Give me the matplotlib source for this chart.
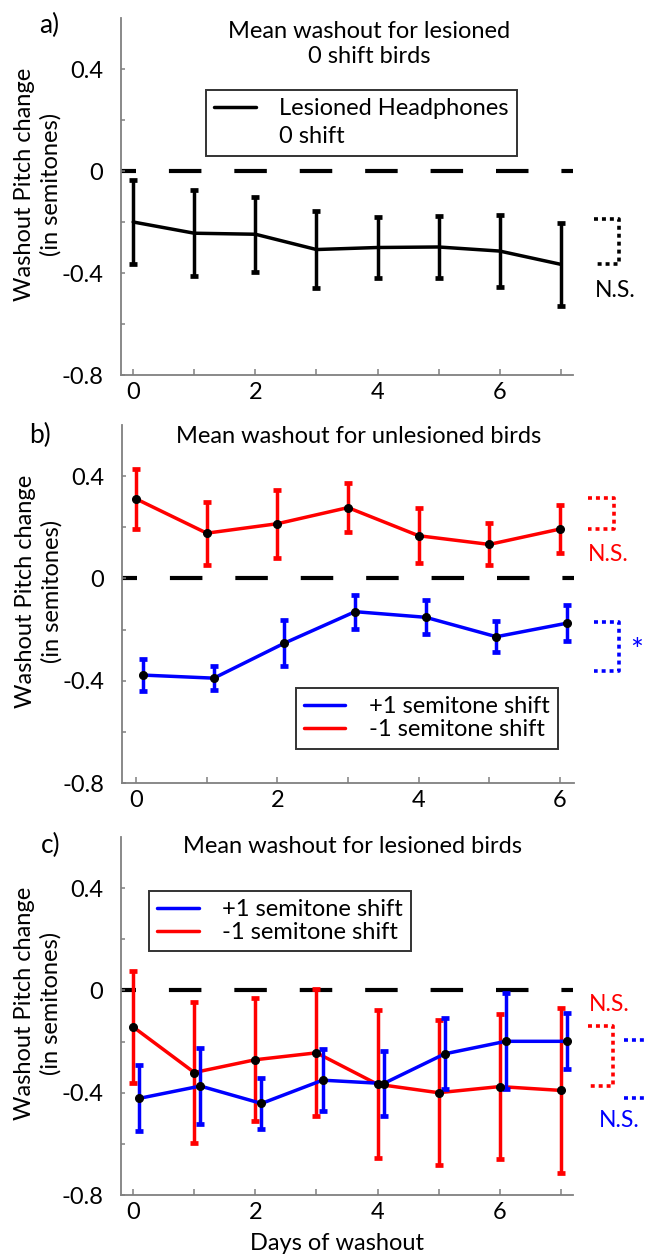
import matplotlib
matplotlib.use("Agg")
import matplotlib.pyplot as plt
from matplotlib.lines import Line2D

plt.rcParams['font.family'] = ['Lato', 'DejaVu Sans']

RED = '#ff0000'
BLUE = '#0000ff'
SPINE = '#808080'

# ---- data -------------------------------------------------------------
# a) lesioned birds, headphones with 0 shift
days_a = [0, 1, 2, 3, 4, 5, 6, 7]
mean_a = [-0.200, -0.244, -0.248, -0.308, -0.300, -0.298, -0.314, -0.366]
err_a = [0.166, 0.168, 0.147, 0.152, 0.120, 0.121, 0.142, 0.162]

# b) unlesioned birds
days_b = [0, 1, 2, 3, 4, 5, 6]
mean_b_up = [-0.378, -0.390, -0.253, -0.130, -0.152, -0.228, -0.175]
err_b_up = [0.062, 0.047, 0.091, 0.067, 0.067, 0.060, 0.070]
mean_b_down = [0.311, 0.177, 0.214, 0.277, 0.167, 0.133, 0.193]
err_b_down = [0.118, 0.123, 0.133, 0.096, 0.108, 0.082, 0.094]

# c) lesioned birds
days_c = [0, 1, 2, 3, 4, 5, 6, 7]
mean_c_up = [-0.422, -0.374, -0.442, -0.351, -0.364, -0.248, -0.199, -0.199]
err_c_up = [0.129, 0.148, 0.098, 0.121, 0.127, 0.139, 0.188, 0.109]
mean_c_down = [-0.143, -0.321, -0.271, -0.244, -0.367, -0.400, -0.376, -0.391]
err_c_down = [0.218, 0.274, 0.241, 0.249, 0.289, 0.283, 0.283, 0.323]

yticks = [-0.8, -0.6, -0.4, -0.2, 0.0, 0.2, 0.4]
ytick_labels = ['-0.8', '', '-0.4', '', '0', '', '0.4']

label_up = '+1 semitone shift'
label_down = '-1 semitone shift'

# ---- layout -----------------------------------------------------------
W, H = 646, 1255
fig = plt.figure(figsize=(W / 100, H / 100), dpi=100)


def px_axes(left, top, right, bottom):
    return fig.add_axes([left / W, 1 - bottom / H, (right - left) / W, (bottom - top) / H])


ax_a = px_axes(121, 18, 573, 375)
ax_b = px_axes(122, 425, 574, 783)
ax_c = px_axes(121, 837, 573, 1195)

BLUE_SHIFT = 0.1
LW = 2.5
FS = 17


def style_axes(ax, ndays):
    ax.set_xlim(-0.2, ndays - 1 + 0.2)
    ax.set_ylim(-0.8, 0.6)
    for s in ('top', 'right'):
        ax.spines[s].set_visible(False)
    for s in ('left', 'bottom'):
        ax.spines[s].set_color(SPINE)
        ax.spines[s].set_linewidth(1.3)
    ax.set_xticks(range(ndays))
    ax.set_xticklabels([str(d) if d % 2 == 0 else '' for d in range(ndays)])
    ax.set_yticks(yticks)
    ax.set_yticklabels(ytick_labels)
    ax.tick_params(axis='both', direction='in', color=SPINE, width=1.1,
                   labelsize=FS, labelcolor='black')
    ax.tick_params(axis='y', length=3, pad=13)
    ax.tick_params(axis='x', length=4, pad=5)
    # zero reference
    ax.axhline(0, color='black', lw=3.0, linestyle=(4.2, (7.8, 7.9)), zorder=1)
    ax.text(-0.184, 0.534, 'Washout Pitch change\n(in semitones)', transform=ax.transAxes,
            rotation=90, ha='center', va='center', fontsize=FS, linespacing=1.25)


def series(ax, x, mean, err, color, dots=True):
    line, = ax.plot(x, mean, color=color, lw=LW, zorder=3, solid_capstyle='round')
    ax.errorbar(x, mean, yerr=err, fmt='none', ecolor=color, elinewidth=LW,
                capsize=3.2, capthick=3.4, zorder=3)
    if dots:
        ax.plot(x, mean, 'o', color='black', ms=5.5, zorder=5)
    return line


def bracket(ax, x0, x1, y0, y1, color):
    ax.plot([x0, x1, x1, x0], [y0, y0, y1, y1], color=color, lw=2.6,
            linestyle=(0, (1.1, 1.1)), clip_on=False, zorder=2)


def make_legend(ax, handles, labels, anchor, spacing, pad):
    leg = ax.legend(handles, labels, loc='upper left', bbox_to_anchor=anchor, fontsize=FS,
                    frameon=True, fancybox=False, edgecolor='black', handlelength=1.75,
                    handletextpad=1.0, labelspacing=spacing, borderpad=pad,
                    borderaxespad=0)
    leg.get_frame().set_linewidth(1.4)
    return leg


# ---- a) --------------------------------------------------------------
style_axes(ax_a, len(days_a))
line_a = series(ax_a, days_a, mean_a, err_a, 'black', dots=False)
ax_a.text(0.549, 0.874, 'Mean washout for lesioned\n0 shift birds', transform=ax_a.transAxes,
          ha='center', va='baseline', fontsize=FS, linespacing=1.25)
blank = Line2D([], [], color='none')
make_legend(ax_a, [line_a, blank], ['Lesioned Headphones', '0 shift'], (0.188, 0.798), 0.3, 0.35)
bracket(ax_a, 7.55, 7.96, -0.19, -0.363, 'black')
ax_a.text(7.55, -0.469, 'N.S.', ha='left', va='center', fontsize=FS - 0.5, color='black',
          clip_on=False)

# ---- b) --------------------------------------------------------------
style_axes(ax_b, len(days_b))
line_b_down = series(ax_b, days_b, mean_b_down, err_b_down, RED)
line_b_up = series(ax_b, [d + BLUE_SHIFT for d in days_b], mean_b_up, err_b_up, BLUE)
ax_b.text(0.524, 0.951, 'Mean washout for unlesioned birds', transform=ax_b.transAxes,
          ha='center', va='baseline', fontsize=FS)
make_legend(ax_b, [line_b_up, line_b_down], [label_up, label_down], (0.384, 0.265), 0.08, 0.35)
bracket(ax_b, 6.40, 6.76, 0.316, 0.195, RED)
ax_b.text(6.40, 0.094, 'N.S.', ha='left', va='center', fontsize=FS - 0.5, color=RED,
          clip_on=False)
bracket(ax_b, 6.49, 6.84, -0.172, -0.363, BLUE)
ax_b.text(7.08, -0.285, '*', ha='center', va='center', fontsize=FS + 5, color=BLUE,
          clip_on=False)

# ---- c) --------------------------------------------------------------
style_axes(ax_c, len(days_c))
line_c_down = series(ax_c, days_c, mean_c_down, err_c_down, RED)
line_c_up = series(ax_c, [d + BLUE_SHIFT for d in days_c], mean_c_up, err_c_up, BLUE)
ax_c.text(0.513, 0.955, 'Mean washout for lesioned birds', transform=ax_c.transAxes,
          ha='center', va='baseline', fontsize=FS)
make_legend(ax_c, [line_c_up, line_c_down], [label_up, label_down], (0.062, 0.849), 0.08, 0.35)
bracket(ax_c, 7.45, 7.86, -0.141, -0.373, RED)
ax_c.text(7.46, -0.055, 'N.S.', ha='left', va='center', fontsize=FS - 0.5, color=RED,
          clip_on=False)
ax_c.plot([8.03, 8.6], [-0.192, -0.192], color=BLUE, lw=2.6, linestyle=(0, (1.1, 1.1)),
          clip_on=False)
ax_c.plot([8.03, 8.6], [-0.42, -0.42], color=BLUE, lw=2.6, linestyle=(0, (1.1, 1.1)),
          clip_on=False)
ax_c.text(7.63, -0.51, 'N.S.', ha='left', va='center', fontsize=FS - 0.5, color=BLUE,
          clip_on=False)
ax_c.text(0.478, -0.154, 'Days of washout', transform=ax_c.transAxes, ha='center',
          va='baseline', fontsize=FS)

# ---- panel letters ----------------------------------------------------
fig.text(39 / W, 1 - 33 / H, 'a)', fontsize=FS + 2, ha='left', va='baseline')
fig.text(29 / W, 1 - 443 / H, 'b)', fontsize=FS + 2, ha='left', va='baseline')
fig.text(41 / W, 1 - 853 / H, 'c)', fontsize=FS + 2, ha='left', va='baseline')

fig.savefig('out.png', dpi=100)
